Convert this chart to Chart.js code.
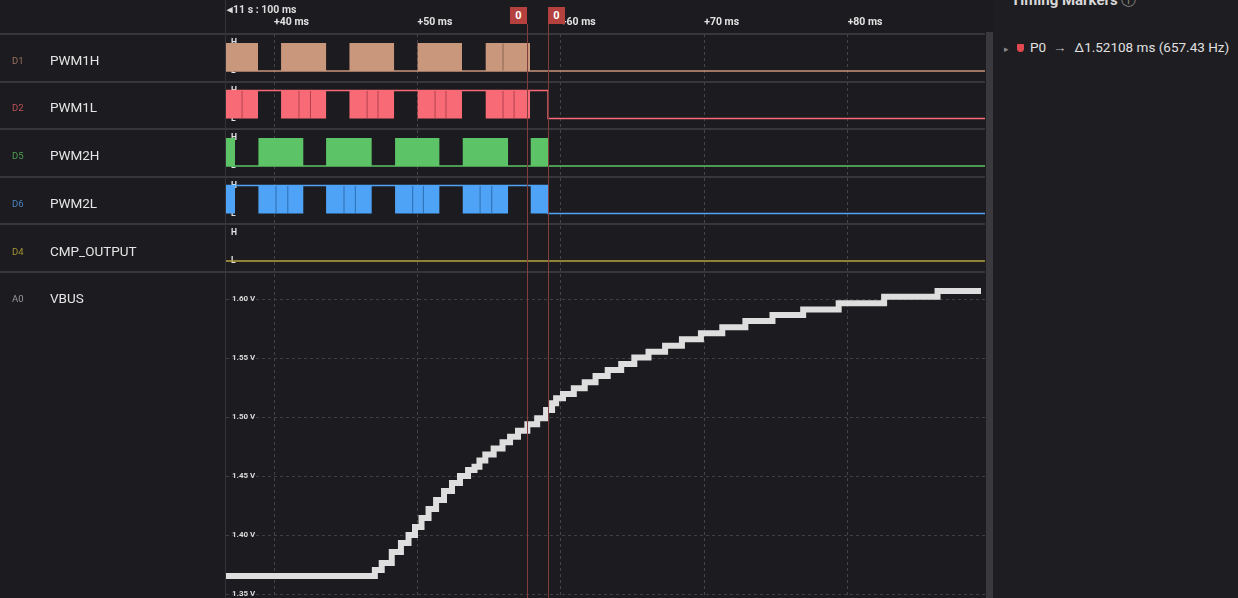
<!DOCTYPE html>
<html lang="en">
<head>
<meta charset="UTF-8">
<title>VBUS capture</title>
<script src="https://cdn.jsdelivr.net/npm/chart.js"></script>
<style>
  body { margin: 0; background: #1c1b1f; font-family: Roboto, "Noto Sans", sans-serif; overflow: hidden; }
  #wrap { position: relative; width: 1238px; height: 598px; overflow: hidden; }
  #plot { position: absolute; left: 0; top: 0; }
  .lbl { position: absolute; white-space: nowrap; line-height: 1; }
  .cid { left: 12px; font-size: 9.5px; }
  .cname { left: 50px; font-size: 13.5px; color: #e4e4e4; }
  .start { left: 227px; top: 5px; font-size: 10.5px; font-weight: bold; color: #dcdcdc; }
  .mk { position: absolute; top: 7px; width: 17px; height: 17px; background: #b5413f; color: #fff;
        font-size: 11px; font-weight: bold; text-align: center; line-height: 17px; }
  #scroll { position: absolute; left: 986px; top: 32px; width: 7px; height: 566px; background: #3a393e; }
  #side { position: absolute; left: 993px; top: 0; width: 245px; height: 598px; background: #1e1d21; color: #e0e0e0; }
  #side .title { position: absolute; left: 18px; top: -9px; font-size: 15px; font-weight: bold; color: #d8d8d8; }
  #side .row { position: absolute; left: 11px; top: 39px; font-size: 13.5px; white-space: nowrap; }
  .caret { color: #8a8a8a; font-size: 9px; margin-right: 8px; }
  .pin { display: inline-block; width: 7px; height: 8px; background: #e0494f; border-radius: 1px 1px 4px 4px; margin-right: 6px; }
  .arrow { color: #bbb; margin: 0 8px 0 7px; }
</style>
</head>
<body>
<div id="wrap">
  <canvas id="plot" width="1238" height="598"></canvas>

  <div class="lbl start">◂11 s : 100 ms</div>

  <div class="lbl cid" style="top:56px;color:#9c725d">D1</div>
  <div class="lbl cname" style="top:54px">PWM1H</div>
  <div class="lbl cid" style="top:103px;color:#c0525c">D2</div>
  <div class="lbl cname" style="top:101px">PWM1L</div>
  <div class="lbl cid" style="top:151px;color:#4f9e55">D5</div>
  <div class="lbl cname" style="top:149px">PWM2H</div>
  <div class="lbl cid" style="top:199px;color:#4b84c2">D6</div>
  <div class="lbl cname" style="top:197px">PWM2L</div>
  <div class="lbl cid" style="top:247px;color:#a49436">D4</div>
  <div class="lbl cname" style="top:245px">CMP_OUTPUT</div>
  <div class="lbl cid" style="top:294px;color:#9a9a9a">A0</div>
  <div class="lbl cname" style="top:292px">VBUS</div>

  <div class="mk" id="mk0">0</div>
  <div class="mk" id="mk1">0</div>

  <div id="scroll"></div>
  <div id="side">
    <div class="title">Timing Markers <span style="color:#888;font-weight:normal">ⓘ</span></div>
    <div class="row"><span class="caret">▸</span><span class="pin"></span>P0<span class="arrow">→</span>Δ1.52108 ms (657.43 Hz)</div>
  </div>
</div>

<script>
    // time window (ms after 11 s : 100 ms) and ticks
    const timeMin = 36.65;
    const timeMax = 89.58;
    const timeTicks = [40, 50, 60, 70, 80];
    const voltTicks = [1.35, 1.40, 1.45, 1.50, 1.55, 1.60];
    const markerTimes = [57.61, 59.11];

    // dense switching bursts, [start, end] in ms
    const pwm1Bursts = [[36.65, 38.88], [40.49, 43.63], [45.26, 48.37], [50.01, 53.11], [54.76, 57.85]];
    const pwm2Bursts = [[36.65, 37.28], [38.91, 42.04], [43.63, 46.81], [48.44, 51.53], [53.16, 56.32], [57.90, 59.11]];

    // visible single edges inside the bursts
    const pwm1hEdges = [55.97];
    const pwm1lEdges = [37.77, 41.74, 42.54, 46.49, 47.25, 51.23, 51.99, 55.97, 56.74];
    const pwm2hEdges = [];
    const pwm2lEdges = [40.14, 40.96, 44.88, 45.67, 49.67, 50.41, 54.37, 55.18];

    // idle level between bursts: [time, level]
    const pwm1hLevel = [[36.65, 0], [89.58, 0]];
    const pwm1lLevel = [[36.65, 1], [59.11, 0], [89.58, 0]];
    const pwm2hLevel = [[36.65, 0], [89.58, 0]];
    const pwm2lLevel = [[36.65, 1], [59.11, 0], [89.58, 0]];
    const cmpLevel = [[36.65, 0], [89.58, 0]];

    // analog VBUS samples
    const vbusTime = [36.65, 46.90, 47.16, 47.86, 48.56, 49.14, 49.62, 50.04, 50.53, 51.02, 51.58, 52.13,
        52.69, 53.25, 53.81, 54.15, 54.50, 54.97, 55.66, 56.21, 56.71, 57.32, 58.01, 58.69, 59.25, 59.53,
        59.81, 60.49, 61.32, 62.01, 62.83, 63.71, 64.71, 65.54, 66.69, 67.85, 69.04, 70.50, 72.02, 73.72,
        75.80, 78.00, 80.75, 84.34, 88.20, 89.30];
    const vbusVolts = [1.3655, 1.3655, 1.3706, 1.3765, 1.3859, 1.3935, 1.4003, 1.4071, 1.4147, 1.4223,
        1.4300, 1.4376, 1.4443, 1.4503, 1.4553, 1.4581, 1.4635, 1.4686, 1.4737, 1.4788, 1.4836, 1.4886,
        1.4941, 1.4992, 1.5062, 1.5119, 1.5161, 1.5197, 1.5246, 1.5297, 1.5350, 1.5401, 1.5452, 1.5508,
        1.5556, 1.5607, 1.5661, 1.5712, 1.5763, 1.5816, 1.5867, 1.5915, 1.5966, 1.6022, 1.6070, 1.6070];

    const channels = [
        { axis: 'd1', color: '#c9977b', edge: '#8c6652', bursts: pwm1Bursts, edges: pwm1hEdges, level: pwm1hLevel },
        { axis: 'd2', color: '#f76a76', edge: '#b3434f', bursts: pwm1Bursts, edges: pwm1lEdges, level: pwm1lLevel },
        { axis: 'd5', color: '#5cc466', edge: '#3b8a42', bursts: pwm2Bursts, edges: pwm2hEdges, level: pwm2hLevel },
        { axis: 'd6', color: '#4fa3f7', edge: '#2c6db0', bursts: pwm2Bursts, edges: pwm2lEdges, level: pwm2lLevel },
        { axis: 'd4', color: '#b9a63f', edge: '#b9a63f', bursts: [], edges: [], level: cmpLevel }
    ];

    const datasets = [];
    channels.forEach(ch => {
        datasets.push({
            data: ch.edges.map(t => ({ x: t, y: 0.5 })),
            yAxisID: ch.axis, showLine: false,
            pointStyle: 'line', pointRotation: 90, pointRadius: 13.5,
            pointBorderColor: ch.edge, pointBorderWidth: 1
        });
        // stepped 'before' holds the previous level until the next point
        datasets.push({
            data: ch.level.map(p => ({ x: p[0], y: p[1] })),
            yAxisID: ch.axis, stepped: 'before',
            borderColor: ch.color, borderWidth: 1.5, pointRadius: 0
        });
        const rect = [];
        ch.bursts.forEach(b => {
            rect.push({ x: b[0], y: 0 }, { x: b[0], y: 1 }, { x: b[1], y: 1 }, { x: b[1], y: 0 });
        });
        datasets.push({
            data: rect, yAxisID: ch.axis,
            borderWidth: 0, pointRadius: 0,
            backgroundColor: ch.color, fill: { value: 0 }
        });
    });
    datasets.push({
        data: vbusTime.map((t, i) => ({ x: t, y: vbusVolts[i] })),
        yAxisID: 'a0', stepped: 'middle',
        borderColor: '#dedede', borderWidth: 6, borderCapStyle: 'butt', pointRadius: 0
    });

    // keep axes from reserving room: the rows must fill the canvas exactly
    function noRoom(s) {
        if (s.isHorizontal()) {
            s.height = 34;
        } else {
            s.width = 0;
        }
        s.paddingTop = 0;
        s.paddingBottom = 0;
        s.paddingLeft = 0;
        s.paddingRight = 0;
    }

    function digitalAxis() {
        return {
            type: 'linear', position: 'left', stack: 'rows', stackWeight: 47.5,
            min: -0.375, max: 1.32,
            afterFit: noRoom,
            afterBuildTicks: s => { s.ticks = [{ value: 0 }, { value: 1 }]; },
            ticks: { mirror: true, padding: 5, color: '#e0e0e0', font: { family: 'Roboto', size: 8.5, weight: 'bold' },
                     callback: v => (v ? 'H' : 'L') },
            grid: { display: false },
            border: { display: false }
        };
    }

    // row separators, plot border and timing markers
    const frame = {
        id: 'frame',
        beforeDraw(chart) {
            const ctx = chart.ctx, area = chart.chartArea;
            ctx.save();
            ctx.fillStyle = '#37363b';
            ['d1', 'd2', 'd5', 'd6', 'd4', 'a0'].forEach(id => {
                ctx.fillRect(0, Math.round(chart.scales[id].top) - 1, area.right, 2);
            });
            ctx.fillStyle = '#34333a';
            ctx.fillRect(area.left - 1, 0, 1, chart.height);
            ctx.restore();
        },
        afterDatasetsDraw(chart) {
            const ctx = chart.ctx, x = chart.scales.x, area = chart.chartArea;
            ctx.save();
            ctx.strokeStyle = '#823d3d';
            ctx.lineWidth = 1;
            markerTimes.forEach((t, i) => {
                const px = Math.round(x.getPixelForValue(t)) + 0.5;
                ctx.beginPath();
                ctx.moveTo(px, 24);
                ctx.lineTo(px, area.bottom);
                ctx.stroke();
                const box = document.getElementById('mk' + i);
                box.style.left = (i === 0 ? px - 17.5 : px - 0.5) + 'px';
            });
            ctx.restore();
        }
    };

    new Chart(document.getElementById('plot'), {
        type: 'line',
        data: { datasets: datasets },
        options: {
            responsive: false,
            animation: false,
            events: [],
            layout: { autoPadding: false, padding: { left: 226, right: 253, top: 0, bottom: 0 } },
            plugins: { legend: { display: false }, tooltip: { enabled: false } },
            scales: {
                x: {
                    type: 'linear', position: 'top', min: timeMin, max: timeMax,
                    afterFit: noRoom,
                    afterBuildTicks: s => { s.ticks = timeTicks.map(v => ({ value: v })); },
                    ticks: { align: 'start', padding: 5, color: '#e2e2e2', autoSkip: false, maxRotation: 0,
                             font: { family: 'Roboto', size: 10.5, weight: 'bold' },
                             callback: v => '+' + v + ' ms' },
                    grid: { color: '#45444a', drawTicks: false },
                    border: { display: false, dash: [3, 3] }
                },
                a0: {
                    type: 'linear', position: 'left', stack: 'rows', stackWeight: 326.5,
                    min: 1.3469, max: 1.6236,
                    afterFit: noRoom,
                    afterBuildTicks: s => { s.ticks = voltTicks.map(v => ({ value: v })); },
                    ticks: { mirror: true, padding: 6, color: '#dadada',
                             font: { family: 'Roboto', size: 8, weight: 'bold' },
                             callback: v => v.toFixed(2) + ' V' },
                    grid: { color: '#3f3e44', drawTicks: false },
                    border: { display: false, dash: [3, 3] }
                },
                d4: digitalAxis(),
                d6: digitalAxis(),
                d5: digitalAxis(),
                d2: digitalAxis(),
                d1: digitalAxis()
            }
        },
        plugins: [frame]
    });
</script>
</body>
</html>
